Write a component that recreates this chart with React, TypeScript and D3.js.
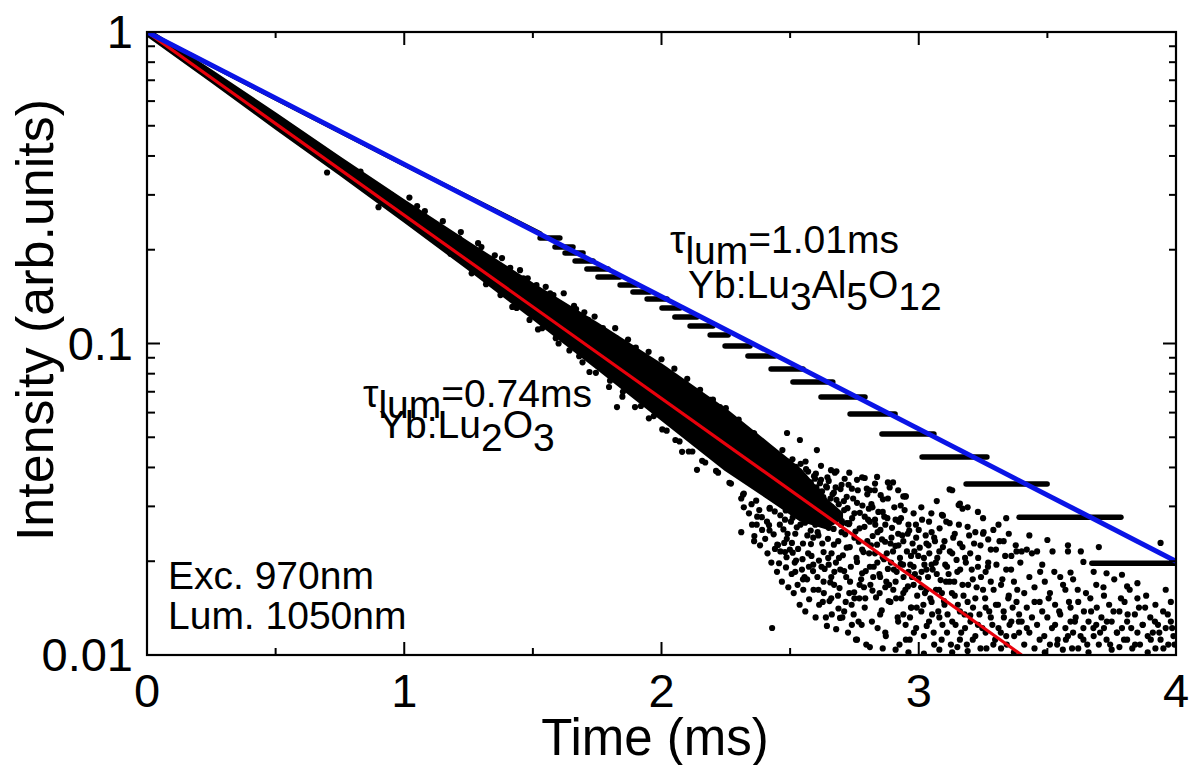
import React from 'react';
import * as d3 from 'd3';

const W = 1190;
const H = 765;
const PLOT = { left: 147, right: 1176, top: 32, bottom: 655 };
const FONT = '"Liberation Sans", Arial, Helvetica, sans-serif';

// ---- axes ----
const xMajor = [0, 1, 2, 3, 4];
const xMinor = [0.5, 1.5, 2.5, 3.5];
const yMajor = [0.01, 0.1, 1];
const yMajorLabels = ['0.01', '0.1', '1'];
const yMinor = [0.02, 0.03, 0.04, 0.05, 0.06, 0.07, 0.08, 0.09, 0.2, 0.3, 0.4, 0.5, 0.6, 0.7, 0.8, 0.9];

// ---- fits (single exponentials, straight on log scale) ----
const fitLuAG: [number, number][] = [[0, 1], [4, 0.02]]; // tau = 1.01 ms
const fitLu2O3: [number, number][] = [[0, 1], [3.4, 0.01]]; // tau = 0.74 ms

// ---- Yb:LuAG data (quantised decay) ----
const luagEarly: [number, number][] = [[0, 1], [0.5, 0.611], [1.0, 0.375], [1.53, 0.226]];
const luagLevels = [0.2182, 0.2041, 0.1952, 0.184, 0.1734, 0.1635, 0.1541, 0.1463, 0.1389, 0.13, 0.1216, 0.1138, 0.1065, 0.0982, 0.0912, 0.0828, 0.0752, 0.0673, 0.0594, 0.0512, 0.0432, 0.0354, 0.0277, 0.0197];
const luagStart = [1.528, 1.586, 1.625, 1.664, 1.71, 1.753, 1.839, 1.889, 1.944, 2.002, 2.052, 2.111, 2.189, 2.247, 2.336, 2.426, 2.511, 2.62, 2.733, 2.857, 3.013, 3.184, 3.39, 3.673];
const luagEnd = [1.605, 1.656, 1.695, 1.734, 1.792, 1.838, 1.905, 1.955, 2.021, 2.072, 2.138, 2.2, 2.259, 2.344, 2.441, 2.55, 2.666, 2.791, 2.908, 3.059, 3.265, 3.499, 3.786, 4.0];

// ---- Yb:Lu2O3 data: dense core band + individual points ----
const bandT = [0, 0.25, 0.5, 0.75, 1.0, 1.25, 1.5, 1.75, 2.0, 2.25, 2.42, 2.54, 2.64, 2.7];
const bandHi = [1.022, 0.7495, 0.5454, 0.3939, 0.2867, 0.2103, 0.155, 0.1156, 0.0853, 0.0612, 0.0472, 0.0393, 0.0315, 0.0285];
const bandLo = [0.978, 0.6957, 0.4918, 0.3499, 0.2472, 0.1737, 0.1207, 0.0834, 0.0572, 0.0393, 0.0317, 0.0271, 0.0256, 0.0275];

const lu2o3Dots: [number, number][] = [
  [0.62, 0.455], [0.83, 0.356], [0.95, 0.3], [1.05, 0.276], [0.7, 0.354], [0.9, 0.274],
  [1.02, 0.294], [1.08, 0.266], [1.15, 0.247], [1.18, 0.194], [1.22, 0.228], [1.3, 0.204], [1.33, 0.162], [1.38, 0.188],
  [1.42, 0.131], [1.45, 0.172], [1.48, 0.162], [1.52, 0.111], [1.55, 0.152], [1.58, 0.143], [1.6, 0.1], [1.62, 0.145],
  [1.66, 0.132], [1.68, 0.091], [1.7, 0.126], [1.72, 0.081], [1.74, 0.122], [1.77, 0.11], [1.8, 0.076], [1.82, 0.112],
  [1.85, 0.07], [1.87, 0.103], [1.9, 0.097], [1.92, 0.063], [1.95, 0.094], [1.97, 0.0585], [2.0, 0.089], [2.02, 0.0525],
  [2.05, 0.083], [2.07, 0.0485], [2.1, 0.077], [2.12, 0.045], [2.15, 0.071], [2.17, 0.0415], [2.2, 0.066], [2.22, 0.0385],
  [2.25, 0.062], [2.27, 0.0355], [2.3, 0.057], [2.32, 0.033],
  [1.213, 0.218], [1.262, 0.168], [1.287, 0.21], [1.318, 0.155], [1.352, 0.192], [1.374, 0.143], [1.412, 0.175], [1.437, 0.13],
  [1.463, 0.162], [1.487, 0.119], [1.514, 0.154], [1.536, 0.112], [1.567, 0.145], [1.589, 0.104], [1.613, 0.133], [1.642, 0.095],
  [1.668, 0.129], [1.693, 0.087], [1.715, 0.119], [1.745, 0.0805], [1.772, 0.112], [1.796, 0.0725], [1.823, 0.104], [1.848, 0.0675],
  [1.873, 0.097], [1.897, 0.0625], [1.925, 0.09], [1.951, 0.0575], [1.976, 0.085], [2.003, 0.053], [2.028, 0.0795], [2.054, 0.049],
  [2.081, 0.0735], [2.106, 0.045], [2.134, 0.0685], [2.158, 0.042], [2.186, 0.0635], [2.212, 0.039], [2.238, 0.0588], [2.264, 0.0357],
  [2.291, 0.0545], [2.317, 0.0327], [2.342, 0.0505], [2.368, 0.0313], [2.394, 0.0465], [2.421, 0.0297],
  [1.598, 0.1349], [1.722, 0.1147], [1.858, 0.1004], [1.905, 0.0905], [1.98, 0.0833], [2.19, 0.0659], [2.227, 0.0625],
  [2.356, 0.0516], [2.488, 0.0516], [2.538, 0.049], [2.604, 0.0455],
  [1.827, 0.0625], [2.08, 0.0449], [2.138, 0.0393], [2.39, 0.0277], [2.453, 0.02255], [2.457, 0.0197], [2.43, 0.01221],
  [2.643, 0.0124], [2.694, 0.01315], [2.74, 0.0125], [2.838, 0.0373], [2.9, 0.0358], [2.947, 0.0323], [3.09, 0.0282],
  [2.76, 0.0365], [2.79, 0.037], [2.81, 0.0338], [2.94, 0.0323], [3.12, 0.034], [3.16, 0.0306], [3.19, 0.0298],
  [3.25, 0.0245], [3.5, 0.0234], [3.58, 0.0225], [3.7, 0.0222], [3.94, 0.0229], [3.64, 0.0199], [3.73, 0.0183],
  [3.79, 0.0181], [3.85, 0.017], [3.81, 0.0166], [3.59, 0.0184], [3.13, 0.0338], [3.155, 0.0303], [3.094, 0.028],
  [2.3, 0.0545], [2.31, 0.0318], [2.32, 0.0298], [2.33, 0.052], [2.34, 0.0285], [2.35, 0.0305], [2.36, 0.0515], [2.37, 0.0262],
  [2.38, 0.0292], [2.31, 0.0248], [2.36, 0.0232],
  [2.4, 0.047], [2.41, 0.0268], [2.42, 0.0251], [2.44, 0.0289], [2.45, 0.0226], [2.47, 0.0455], [2.48, 0.0272],
  [2.49, 0.0245], [2.42, 0.0295], [2.46, 0.0262], [2.48, 0.0214], [2.44, 0.0442], [2.49, 0.0418],
  [2.5, 0.0405], [2.5, 0.0352], [2.51, 0.0318], [2.51, 0.0276], [2.52, 0.0389], [2.52, 0.0245], [2.53, 0.0338], [2.53, 0.0298],
  [2.54, 0.0372], [2.54, 0.0262], [2.55, 0.0228], [2.55, 0.0347], [2.56, 0.0305], [2.56, 0.0418], [2.57, 0.0279], [2.57, 0.0212],
  [2.58, 0.0358], [2.58, 0.0251], [2.59, 0.0322], [2.59, 0.0195], [2.52, 0.0185], [2.55, 0.0175], [2.57, 0.0388], [2.59, 0.0238], [2.51, 0.0213],
  [2.6, 0.0382], [2.6, 0.0288], [2.61, 0.0335], [2.61, 0.0242], [2.62, 0.0268], [2.62, 0.0365], [2.63, 0.0214], [2.63, 0.0312],
  [2.64, 0.0348], [2.65, 0.0256], [2.65, 0.0195], [2.66, 0.0299], [2.66, 0.0178], [2.67, 0.0332], [2.67, 0.0226],
  [2.68, 0.0275], [2.68, 0.0389], [2.69, 0.0205], [2.61, 0.0162], [2.63, 0.0172], [2.66, 0.0152], [2.68, 0.0315], [2.62, 0.0405], [2.65, 0.0362],
  [2.7, 0.0352], [2.7, 0.0248], [2.71, 0.0292], [2.71, 0.0186], [2.72, 0.0322], [2.72, 0.0221], [2.73, 0.0265], [2.73, 0.0158],
  [2.74, 0.0342], [2.75, 0.0238], [2.75, 0.0285], [2.76, 0.0199], [2.76, 0.0308], [2.77, 0.0168], [2.77, 0.0255],
  [2.78, 0.0372], [2.78, 0.0218], [2.79, 0.0142], [2.79, 0.0278], [2.71, 0.0138], [2.73, 0.0385], [2.76, 0.0112], [2.78, 0.0183],
  [2.72, 0.0265], [2.75, 0.0152],
  [2.8, 0.0328], [2.8, 0.0232], [2.81, 0.0192], [2.81, 0.0268], [2.82, 0.0298], [2.82, 0.0161], [2.83, 0.0212], [2.83, 0.0355],
  [2.84, 0.0248], [2.85, 0.0178], [2.85, 0.0135], [2.86, 0.0288], [2.86, 0.0206], [2.87, 0.0118], [2.87, 0.0262],
  [2.88, 0.0318], [2.88, 0.0189], [2.89, 0.0228], [2.89, 0.0148], [2.81, 0.0106], [2.84, 0.0122], [2.86, 0.0105], [2.88, 0.0358],
  [2.83, 0.0272], [2.87, 0.0165],
  [2.9, 0.0215], [2.91, 0.0272], [2.91, 0.0172], [2.92, 0.0245], [2.92, 0.0128], [2.93, 0.0196], [2.93, 0.0302],
  [2.94, 0.0158], [2.94, 0.0232], [2.95, 0.0323], [2.95, 0.0112], [2.96, 0.0185], [2.96, 0.0262], [2.97, 0.0142], [2.97, 0.0208],
  [2.98, 0.0285], [2.98, 0.0168], [2.99, 0.0122], [2.99, 0.0238], [2.91, 0.0104], [2.94, 0.0135], [2.96, 0.0102], [2.98, 0.0192], [2.92, 0.0338],
  [3.0, 0.0252], [3.0, 0.0176], [3.01, 0.0138], [3.01, 0.0298], [3.02, 0.0205], [3.02, 0.0115], [3.03, 0.0228], [3.03, 0.0162],
  [3.04, 0.0268], [3.04, 0.0128], [3.05, 0.0195], [3.05, 0.0148], [3.06, 0.0238], [3.06, 0.0108], [3.07, 0.0182], [3.07, 0.0312],
  [3.08, 0.0215], [3.08, 0.0132], [3.09, 0.0158], [3.02, 0.0101], [3.05, 0.0248], [3.08, 0.0104], [3.03, 0.0188],
  [3.1, 0.0232], [3.1, 0.0145], [3.11, 0.0192], [3.11, 0.0118], [3.12, 0.0265], [3.12, 0.0172], [3.13, 0.0128], [3.13, 0.0212],
  [3.14, 0.0155], [3.14, 0.0245], [3.15, 0.0106], [3.15, 0.0185], [3.16, 0.0138], [3.16, 0.0228], [3.17, 0.0168], [3.17, 0.0295],
  [3.18, 0.0122], [3.18, 0.0205], [3.19, 0.0148], [3.19, 0.0258], [3.13, 0.0102], [3.16, 0.0112], [3.19, 0.0103],
  [3.2, 0.0212], [3.2, 0.0134], [3.21, 0.0175], [3.21, 0.0112], [3.22, 0.0248], [3.22, 0.0152], [3.23, 0.0192], [3.23, 0.0125],
  [3.24, 0.0105], [3.24, 0.0225], [3.25, 0.0162], [3.25, 0.0275], [3.26, 0.0142], [3.26, 0.0118], [3.27, 0.0198], [3.27, 0.0235],
  [3.28, 0.0132], [3.28, 0.0172], [3.29, 0.0108], [3.29, 0.0252], [3.23, 0.0288], [3.26, 0.0185],
  [3.3, 0.0145], [3.3, 0.0218], [3.31, 0.0122], [3.31, 0.0262], [3.32, 0.0168], [3.32, 0.0105], [3.33, 0.0232], [3.33, 0.0138],
  [3.34, 0.0188], [3.34, 0.0115], [3.35, 0.0155], [3.35, 0.0245], [3.36, 0.0128], [3.36, 0.0208], [3.37, 0.0102], [3.37, 0.0172],
  [3.38, 0.0148], [3.38, 0.0215], [3.39, 0.0118], [3.39, 0.0135], [3.34, 0.0275],
  [3.4, 0.0215], [3.4, 0.0128], [3.41, 0.0158], [3.41, 0.0108], [3.42, 0.0218], [3.42, 0.0142], [3.43, 0.0178], [3.43, 0.0118],
  [3.44, 0.0212], [3.44, 0.0132], [3.45, 0.0105], [3.45, 0.0165], [3.46, 0.0215], [3.46, 0.0125], [3.47, 0.0148], [3.47, 0.0112],
  [3.48, 0.0195], [3.48, 0.0138], [3.49, 0.0102], [3.49, 0.0172], [3.43, 0.0242],
  [3.5, 0.0132], [3.51, 0.0158], [3.51, 0.0108], [3.52, 0.0215], [3.53, 0.0125], [3.53, 0.0145], [3.54, 0.0112], [3.55, 0.0178],
  [3.55, 0.0135], [3.56, 0.0104], [3.57, 0.0122], [3.57, 0.0162], [3.58, 0.0215], [3.58, 0.0115], [3.59, 0.0142], [3.59, 0.0128],
  [3.6, 0.0118], [3.6, 0.0175], [3.61, 0.0132], [3.62, 0.0105], [3.62, 0.0148], [3.63, 0.0215], [3.64, 0.0122], [3.64, 0.0112],
  [3.65, 0.0158], [3.66, 0.0128], [3.66, 0.0102], [3.67, 0.0138], [3.68, 0.0185], [3.68, 0.0115], [3.69, 0.0125], [3.69, 0.0168],
  [3.7, 0.0108], [3.71, 0.0132], [3.72, 0.0122], [3.72, 0.0155], [3.73, 0.0112], [3.74, 0.0145], [3.75, 0.0104], [3.75, 0.0128],
  [3.76, 0.0175], [3.77, 0.0118], [3.78, 0.0138], [3.78, 0.0106], [3.79, 0.0122],
  [3.8, 0.0148], [3.81, 0.0112], [3.81, 0.0128], [3.82, 0.0162], [3.83, 0.0105], [3.84, 0.0135], [3.85, 0.0118], [3.85, 0.0152],
  [3.86, 0.0108], [3.87, 0.0125], [3.88, 0.0142], [3.89, 0.0115], [3.89, 0.0102],
  [3.9, 0.0132], [3.91, 0.0118], [3.92, 0.0145], [3.92, 0.0105], [3.93, 0.0125], [3.94, 0.0112], [3.95, 0.0138], [3.96, 0.0122],
  [3.96, 0.0162], [3.97, 0.0108], [3.98, 0.0128], [3.99, 0.0115], [3.98, 0.0148],
  [2.453, 0.0395], [2.458, 0.0332], [2.462, 0.0281], [2.466, 0.0372], [2.471, 0.0309], [2.474, 0.0253], [2.479, 0.0348], [2.483, 0.0291],
  [2.487, 0.0236], [2.491, 0.0383], [2.496, 0.0322], [2.503, 0.0268], [2.507, 0.0229], [2.512, 0.0365], [2.516, 0.0301], [2.521, 0.0342],
  [2.526, 0.0257], [2.531, 0.0219], [2.535, 0.0379], [2.539, 0.0315], [2.544, 0.0284], [2.548, 0.0203], [2.553, 0.0331], [2.558, 0.0266],
  [2.562, 0.0395], [2.567, 0.0242], [2.571, 0.0308], [2.576, 0.0351], [2.581, 0.0227], [2.585, 0.0289], [2.589, 0.0186], [2.594, 0.0338],
  [2.598, 0.0262], [2.518, 0.0198], [2.541, 0.0411], [2.573, 0.0192], [2.486, 0.0206], [2.509, 0.0425], [2.556, 0.0178], [2.597, 0.0368],
  [2.603, 0.0312], [2.607, 0.0248], [2.612, 0.0201], [2.616, 0.0356], [2.621, 0.0278], [2.625, 0.0228], [2.629, 0.0321], [2.634, 0.0189],
  [2.638, 0.0262], [2.643, 0.0345], [2.647, 0.0236], [2.651, 0.0295], [2.656, 0.0171], [2.661, 0.0212], [2.665, 0.0328], [2.669, 0.0254],
  [2.674, 0.0385], [2.678, 0.0198], [2.683, 0.0286], [2.687, 0.0232], [2.692, 0.0164], [2.696, 0.0341], [2.701, 0.0269], [2.705, 0.0209],
  [2.709, 0.0312], [2.714, 0.0244], [2.718, 0.0178], [2.723, 0.0296], [2.727, 0.0352], [2.732, 0.0222], [2.736, 0.0192], [2.741, 0.0275],
  [2.745, 0.0318], [2.749, 0.0159], [2.754, 0.0249], [2.758, 0.0205], [2.763, 0.0338], [2.767, 0.0231], [2.771, 0.0286], [2.776, 0.0175],
  [2.781, 0.0302], [2.785, 0.0214], [2.789, 0.0258], [2.794, 0.0186], [2.798, 0.0342], [2.627, 0.0148], [2.659, 0.0392], [2.688, 0.0141],
  [2.712, 0.0368], [2.739, 0.0145], [2.766, 0.0128], [2.792, 0.0152], [2.615, 0.0271], [2.672, 0.0185], [2.728, 0.0263],
  [2.803, 0.0272], [2.807, 0.0212], [2.812, 0.0168], [2.816, 0.0305], [2.821, 0.0241], [2.825, 0.0192], [2.829, 0.0338], [2.834, 0.0153],
  [2.838, 0.0226], [2.843, 0.0288], [2.847, 0.0182], [2.851, 0.0252], [2.856, 0.0139], [2.861, 0.0316], [2.865, 0.0203], [2.869, 0.0231],
  [2.874, 0.0172], [2.878, 0.0275], [2.883, 0.0149], [2.887, 0.0345], [2.892, 0.0198], [2.896, 0.0256], [2.901, 0.0162], [2.905, 0.0298],
  [2.909, 0.0224], [2.914, 0.0185], [2.918, 0.0132], [2.923, 0.0268], [2.927, 0.0205], [2.932, 0.0152], [2.936, 0.0242], [2.941, 0.0178],
  [2.945, 0.0292], [2.949, 0.0125], [2.954, 0.0215], [2.958, 0.0166], [2.963, 0.0251], [2.967, 0.0195], [2.971, 0.0142], [2.976, 0.0228],
  [2.981, 0.0118], [2.985, 0.0182], [2.989, 0.0262], [2.994, 0.0155], [2.998, 0.0208], [2.818, 0.0128], [2.872, 0.0115], [2.925, 0.0108],
  [2.965, 0.0112], [2.852, 0.0326],
  [3.004, 0.0221], [3.009, 0.0165], [3.013, 0.0272], [3.018, 0.0145], [3.022, 0.0195], [3.027, 0.0242], [3.031, 0.0124], [3.036, 0.0178],
  [3.041, 0.0212], [3.045, 0.0152], [3.049, 0.0285], [3.054, 0.0188], [3.058, 0.0118], [3.063, 0.0232], [3.067, 0.0162], [3.072, 0.0205],
  [3.076, 0.0138], [3.081, 0.0255], [3.085, 0.0174], [3.089, 0.0112], [3.094, 0.0222], [3.098, 0.0149], [3.103, 0.0195], [3.107, 0.0268],
  [3.112, 0.0135], [3.116, 0.0182], [3.121, 0.0215], [3.125, 0.0108], [3.129, 0.0158], [3.134, 0.0238], [3.138, 0.0172], [3.143, 0.0125],
  [3.147, 0.0202], [3.152, 0.0145], [3.156, 0.0262], [3.161, 0.0188], [3.165, 0.0118], [3.17, 0.0222], [3.174, 0.0155], [3.178, 0.0135],
  [3.183, 0.0198], [3.187, 0.0108], [3.192, 0.0168], [3.196, 0.0242], [3.201, 0.0128],
  [3.206, 0.0188], [3.211, 0.0142], [3.215, 0.0228], [3.22, 0.0115], [3.225, 0.0165], [3.231, 0.0205], [3.236, 0.0135], [3.242, 0.0178],
  [3.247, 0.0122], [3.252, 0.0248], [3.258, 0.0152], [3.263, 0.0105], [3.269, 0.0192], [3.274, 0.0138], [3.28, 0.0218], [3.286, 0.0125],
  [3.291, 0.0162], [3.297, 0.0112], [3.302, 0.0195], [3.308, 0.0145], [3.314, 0.0232], [3.319, 0.0118], [3.325, 0.0175], [3.331, 0.0132],
  [3.336, 0.0208], [3.342, 0.0108], [3.348, 0.0152], [3.353, 0.0125], [3.359, 0.0188], [3.365, 0.0142], [3.371, 0.0115], [3.377, 0.0225],
  [3.383, 0.0162], [3.389, 0.0128], [3.395, 0.0198], [3.42, 0.0122], [3.45, 0.0148], [3.472, 0.0185], [3.488, 0.0115],
  [3.505, 0.0152], [3.518, 0.0122], [3.527, 0.0185], [3.538, 0.0108], [3.546, 0.0138], [3.561, 0.0168], [3.572, 0.0112], [3.584, 0.0148],
  [3.596, 0.0105], [3.607, 0.0128], [3.618, 0.0162], [3.629, 0.0115], [3.642, 0.0138], [3.655, 0.0108], [3.667, 0.0152], [3.679, 0.0122],
  [3.692, 0.0142], [3.705, 0.0118], [3.718, 0.0165], [3.731, 0.0128], [3.744, 0.0108], [3.757, 0.0138], [3.771, 0.0118], [3.786, 0.0152],
  [3.798, 0.0112], [3.812, 0.0135], [3.826, 0.0122], [3.841, 0.0108], [3.856, 0.0142], [3.871, 0.0125], [3.884, 0.0155], [3.902, 0.0112],
  [3.918, 0.0128], [3.935, 0.0118], [3.951, 0.0105], [3.968, 0.0135], [3.985, 0.0122], [3.994, 0.0108],
  [2.352, 0.0262], [2.361, 0.0241], [2.372, 0.0278], [2.383, 0.0225], [2.391, 0.0252], [2.403, 0.0236], [2.412, 0.0212], [2.418, 0.0261],
  [2.427, 0.0198], [2.436, 0.0244], [2.441, 0.0219], [2.449, 0.0185], [2.462, 0.0215], [2.468, 0.0172], [2.477, 0.0229], [2.484, 0.0191],
  [2.493, 0.0165], [2.499, 0.0218], [2.506, 0.0182], [2.514, 0.0158], [2.523, 0.0201], [2.529, 0.0168], [2.537, 0.0145], [2.546, 0.0188],
  [2.551, 0.0162], [2.559, 0.0138], [2.566, 0.0175], [2.574, 0.0151], [2.583, 0.0208], [2.591, 0.0162], [2.599, 0.0132], [2.606, 0.0178],
  [2.613, 0.0145], [2.622, 0.0192], [2.631, 0.0158], [2.639, 0.0132], [2.648, 0.0205], [2.653, 0.0149], [2.662, 0.0135], [2.671, 0.0168],
  [2.679, 0.0121], [2.686, 0.0155], [2.695, 0.0188], [2.703, 0.0132], [2.716, 0.0148], [2.725, 0.0118], [2.733, 0.0172], [2.747, 0.0135],
  [2.756, 0.0112], [2.769, 0.0152], [2.778, 0.0125], [2.787, 0.0165], [2.796, 0.0108],
  [2.405, 0.0405], [2.414, 0.0362], [2.423, 0.0331], [2.432, 0.0388], [2.439, 0.0345], [2.447, 0.0312], [2.455, 0.0425], [2.464, 0.0352],
  [2.472, 0.0418], [2.481, 0.0328], [2.489, 0.0298], [2.497, 0.0392], [2.505, 0.0332], [2.513, 0.0285], [2.522, 0.0402], [2.532, 0.0358],
  [2.542, 0.0325], [2.552, 0.0275], [2.561, 0.0362], [2.572, 0.0328], [2.582, 0.0305], [2.593, 0.0375], [2.602, 0.0345], [2.611, 0.0295],
  [2.624, 0.0335], [2.636, 0.0302], [2.645, 0.0372], [2.657, 0.0318], [2.668, 0.0282], [2.677, 0.0345], [2.689, 0.0305], [2.698, 0.0262],
  [2.806, 0.0295], [2.814, 0.0225], [2.823, 0.0178], [2.831, 0.0262], [2.839, 0.0198], [2.848, 0.0158], [2.857, 0.0235], [2.866, 0.0278],
  [2.876, 0.0212], [2.885, 0.0168], [2.894, 0.0238], [2.903, 0.0188], [2.912, 0.0152], [2.921, 0.0225], [2.931, 0.0275], [2.939, 0.0195],
  [2.948, 0.0162], [2.957, 0.0245], [2.966, 0.0132], [2.974, 0.0178], [2.983, 0.0215], [2.992, 0.0142], [3.011, 0.0185], [3.024, 0.0158],
  [3.038, 0.0225], [3.052, 0.0135], [3.066, 0.0198], [3.079, 0.0162], [3.092, 0.0125], [3.106, 0.0172],
];

export default function App() {
  const x = d3.scaleLinear().domain([0, 4]).range([PLOT.left, PLOT.right]);
  const y = d3.scaleLog().domain([0.01, 1]).range([PLOT.bottom, PLOT.top]);

  const line = d3.line<[number, number]>().x((d) => x(d[0])).y((d) => y(d[1]));
  const bandData = bandT.map((t, i) => ({ t, hi: bandHi[i], lo: bandLo[i] }));
  const band = d3
    .area<{ t: number; hi: number; lo: number }>()
    .x((d) => x(d.t))
    .y0((d) => y(d.lo))
    .y1((d) => y(d.hi))
    .curve(d3.curveLinear);

  const pw = PLOT.right - PLOT.left;
  const ph = PLOT.bottom - PLOT.top;

  return (
    <svg width={W} height={H} style={{ position: 'absolute', left: 0, top: 0, background: '#fff' }} fontFamily={FONT}>
      <defs>
        <clipPath id="plotclip">
          <rect x={PLOT.left} y={PLOT.top} width={pw} height={ph} />
        </clipPath>
      </defs>
      <rect x={0} y={0} width={W} height={H} fill="#fff" />

      <g clipPath="url(#plotclip)">
        {/* Lu2O3 data */}
        <path d={band(bandData) || ''} fill="#000" stroke="#000" strokeWidth={3} strokeLinejoin="round" />
        {lu2o3Dots.map((d, i) => (
          <circle key={i} cx={x(d[0])} cy={y(d[1])} r={3.1} fill="#000" />
        ))}
        {/* LuAG data */}
        <path d={line(luagEarly) || ''} fill="none" stroke="#000" strokeWidth={4} strokeLinecap="round" />
        {luagLevels.map((lv, i) => (
          <line
            key={i}
            x1={x(luagStart[i])}
            x2={x(luagEnd[i])}
            y1={y(lv)}
            y2={y(lv)}
            stroke="#000"
            strokeWidth={5.5}
            strokeLinecap="round"
          />
        ))}
        {/* fits */}
        <path d={line(fitLu2O3) || ''} fill="none" stroke="#e8000b" strokeWidth={3.2} />
        <path d={line(fitLuAG) || ''} fill="none" stroke="#0a14e6" strokeWidth={5} />
      </g>

      {/* frame */}
      <rect x={PLOT.left} y={PLOT.top} width={pw} height={ph} fill="none" stroke="#000" strokeWidth={2.2} />

      {/* x ticks */}
      {xMajor.map((t) => (
        <g key={'xM' + t}>
          <line x1={x(t)} x2={x(t)} y1={PLOT.bottom} y2={PLOT.bottom - 13} stroke="#000" strokeWidth={2} />
          <line x1={x(t)} x2={x(t)} y1={PLOT.top} y2={PLOT.top + 13} stroke="#000" strokeWidth={2} />
          <text x={x(t)} y={707} fontSize={47} textAnchor="middle">{t}</text>
        </g>
      ))}
      {xMinor.map((t) => (
        <g key={'xm' + t}>
          <line x1={x(t)} x2={x(t)} y1={PLOT.bottom} y2={PLOT.bottom - 7} stroke="#000" strokeWidth={2} />
          <line x1={x(t)} x2={x(t)} y1={PLOT.top} y2={PLOT.top + 6} stroke="#000" strokeWidth={2} />
        </g>
      ))}

      {/* y ticks */}
      {yMajor.map((v, i) => (
        <g key={'yM' + v}>
          <line x1={PLOT.left} x2={PLOT.left + 13} y1={y(v)} y2={y(v)} stroke="#000" strokeWidth={2} />
          <line x1={PLOT.right} x2={PLOT.right - 13} y1={y(v)} y2={y(v)} stroke="#000" strokeWidth={2} />
          <text x={133} y={y(v) + 16} fontSize={47} textAnchor="end">{yMajorLabels[i]}</text>
        </g>
      ))}
      {yMinor.map((v) => (
        <g key={'ym' + v}>
          <line x1={PLOT.left} x2={PLOT.left + 8} y1={y(v)} y2={y(v)} stroke="#000" strokeWidth={2} />
          <line x1={PLOT.right} x2={PLOT.right - 7} y1={y(v)} y2={y(v)} stroke="#000" strokeWidth={2} />
        </g>
      ))}

      {/* axis titles */}
      <text x={655} y={755} fontSize={51} textAnchor="middle">Time (ms)</text>
      <text transform="translate(53,320) rotate(-90)" fontSize={52} textAnchor="middle">Intensity (arb.units)</text>

      {/* annotations */}
      <text x={670} y={253} fontSize={39}>
        τ<tspan dy={11}>lum</tspan><tspan dy={-11}>=1.01ms</tspan>
      </text>
      <text x={688} y={298} fontSize={39}>
        Yb:Lu<tspan dy={12}>3</tspan><tspan dy={-12}>Al</tspan><tspan dy={12}>5</tspan><tspan dy={-12}>O</tspan><tspan dy={12}>12</tspan>
      </text>
      <text x={363} y={407} fontSize={39}>
        τ<tspan dy={11}>lum</tspan><tspan dy={-11}>=0.74ms</tspan>
      </text>
      <text x={379} y={438} fontSize={39}>
        Yb:Lu<tspan dy={13}>2</tspan><tspan dy={-13}>O</tspan><tspan dy={13}>3</tspan>
      </text>
      <text x={168} y={589} fontSize={39}>Exc. 970nm</text>
      <text x={168} y={629} fontSize={39}>Lum. 1050nm</text>
    </svg>
  );
}
